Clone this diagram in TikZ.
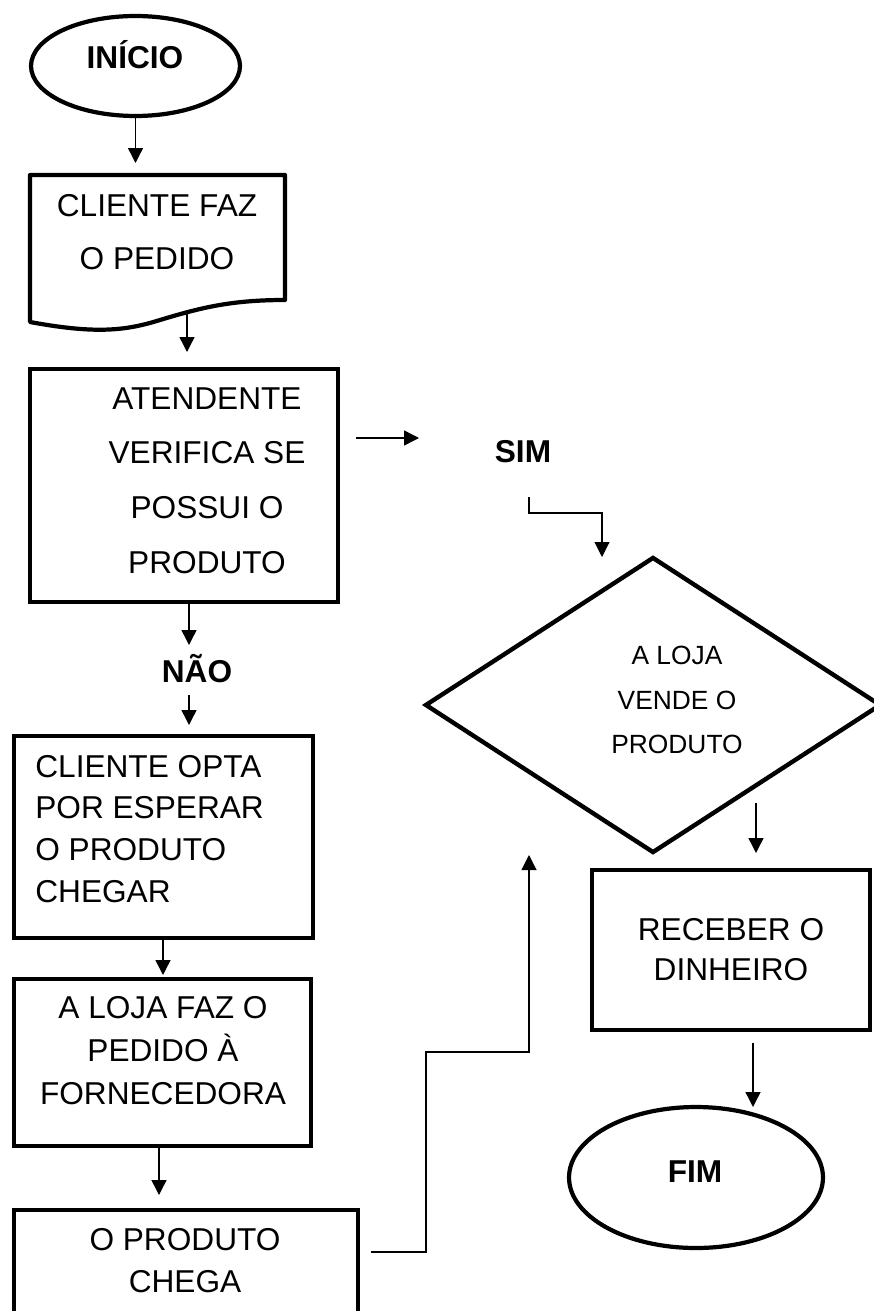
\documentclass[tikz,border=0pt]{standalone}
\usepackage{fontspec}
\setmainfont{Liberation Sans}
\usetikzlibrary{shapes, arrows.meta, positioning, calc, fit}

\begin{document}
\begin{tikzpicture}[x=0.02cm, y=-0.02cm,
  flowbox/.style={draw, rectangle, line width=2.5pt, inner sep=0pt},
  termbox/.style={draw, ellipse, line width=2.4pt, inner sep=0pt},
  flowarrow/.style={-{Triangle[length=3mm, width=3mm]}, line width=0.8pt},
  thinline/.style={line width=0.6pt},
  boxtxt/.style={font=\fontsize{18}{#1}\selectfont, align=center, inner sep=0pt},
  smalltxt/.style={font=\fontsize{15}{25.5}\selectfont, align=center, inner sep=0pt},
  boldtxt/.style={font=\fontsize{18}{22}\selectfont\bfseries, inner sep=0pt}]
  \useasboundingbox (0,0) rectangle (874,1311);
  \clip (0,0) rectangle (874,1311);

  % start and order
  \node[termbox, minimum width=4.18cm, minimum height=2.0cm] (inicio) at (135.5,66) {};
  \node[boldtxt, anchor=base] (iniciotxt) at (135,69) {INÍCIO};
  \draw[line width=2.4pt, line join=round] (30,175) -- (285,175) -- (285,300)
    .. controls (230,300) and (200,308) .. (160,320)
    .. controls (125,331) and (95,334) .. (30,322) -- cycle;
  \node[boxtxt=30.6] (pedido) at (157,232) {CLIENTE FAZ\\O PEDIDO};

  % check
  \node[flowbox, fit={(30,369) (338,602)}] (atend) {};
  \node[boxtxt=31.2] (atendtxt) at (207,480.5) {ATENDENTE\\VERIFICA SE\\POSSUI O\\PRODUTO};
  \node[boldtxt, anchor=base] (sim) at (523,462) {SIM};
  \node[boldtxt, anchor=base] (nao) at (197,682) {NÃO};

  % yes branch
  \node[draw, diamond, line width=2.5pt, inner sep=0pt, minimum width=9.12cm, minimum height=5.92cm] (vende) at (653,705) {};
  \node[smalltxt] (vendetxt) at (677,700) {A LOJA\\VENDE O\\PRODUTO};
  \node[flowbox, fit={(592,870) (870,1030)}] (receber) {};
  \node[boxtxt=23.2] (recebertxt) at (731,949.5) {RECEBER O\\DINHEIRO};
  \node[termbox, minimum width=5.08cm, minimum height=2.82cm] (fim) at (696,1177.5) {};
  \node[boldtxt, anchor=base] (fimtxt) at (695,1182) {FIM};

  % no branch
  \node[flowbox, fit={(14,736) (313,938)}] (opta) {};
  \node[boxtxt=23.8, align=left, anchor=west] (optatxt) at (35,829) {CLIENTE OPTA\\POR ESPERAR\\O PRODUTO\\CHEGAR};
  \node[flowbox, fit={(14,979) (311,1146)}] (loja) {};
  \node[boxtxt=24.4] (lojatxt) at (163,1050.5) {A LOJA FAZ O\\PEDIDO À\\FORNECEDORA};
  \node[flowbox, fit={(14,1210) (358,1340)}] (chega) {};
  \node[boxtxt=23.8] (chegatxt) at (185,1261) {O PRODUTO\\CHEGA};

  % arrow ends
  \coordinate (a1) at (135.5,163);
  \coordinate (p1) at (187,314);  \coordinate (p2) at (187,352);
  \coordinate (s1) at (356,438);  \coordinate (s2) at (419,438);
  \coordinate (e1) at (529,497);  \coordinate (e2) at (602,557);
  \coordinate (n1) at (189,603);  \coordinate (n2) at (189,645);
  \coordinate (n3) at (189,695);  \coordinate (n4) at (189,725);
  \coordinate (v1) at (756,803);  \coordinate (v2) at (756,853);
  \coordinate (r1) at (753,1043); \coordinate (r2) at (753,1107);
  \coordinate (o1) at (163,939);  \coordinate (o2) at (163,975);
  \coordinate (l1) at (159,1147); \coordinate (l2) at (159,1195);
  \coordinate (c1) at (371,1252); \coordinate (c2) at (529,855);

  \draw[flowarrow] (inicio.south) -- (a1);
  \draw[flowarrow] (p1) -- (p2);
  \draw[flowarrow] (s1) -- (s2);
  \draw[flowarrow, thinline] (e1) -- ++(0,16) -| (e2);
  \draw[flowarrow] (n1) -- (n2);
  \draw[flowarrow] (n3) -- (n4);
  \draw[flowarrow] (v1) -- (v2);
  \draw[flowarrow] (r1) -- (r2);
  \draw[flowarrow] (o1) -- (o2);
  \draw[flowarrow] (l1) -- (l2);
  \draw[flowarrow, thinline] (c1) -- ++(55,0) -- ++(0,-200) -| (c2);
\end{tikzpicture}
\end{document}
